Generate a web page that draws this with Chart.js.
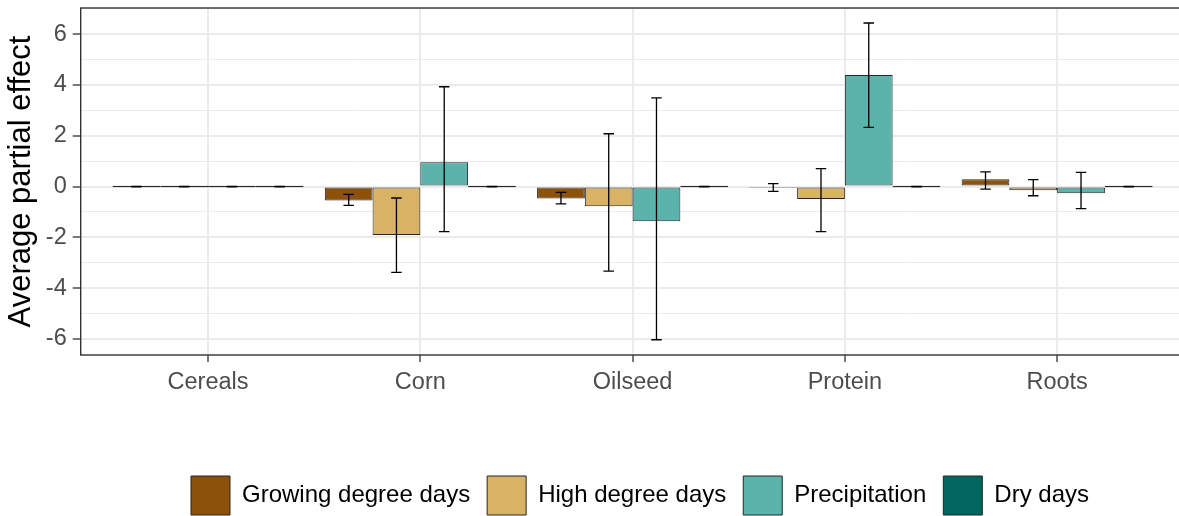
<!DOCTYPE html>
<html>
<head>
<meta charset="utf-8">
<script src="https://cdn.jsdelivr.net/npm/chart.js@4"></script>
<style>
  html, body { margin: 0; padding: 0; background: #fff; overflow: hidden; }
  #wrap { width: 1179px; height: 516px; overflow: hidden; }
</style>
</head>
<body>
<div id="wrap"><canvas id="chart" width="1280" height="525"></canvas></div>
<script>
// categories and series
var categories = ['Cereals', 'Corn', 'Oilseed', 'Protein', 'Roots'];
var seriesNames = ['Growing degree days', 'High degree days', 'Precipitation', 'Dry days'];
var seriesColors = ['#8C510A', '#D8B365', '#5AB4AC', '#01665E'];

var gdd      = [0.00, -0.55, -0.47, -0.03, 0.29];
var gddLo    = [-0.01, -0.74, -0.68, -0.19, -0.10];
var gddHi    = [0.01, -0.31, -0.23, 0.12, 0.58];

var hdd      = [0.00, -1.91, -0.77, -0.49, -0.14];
var hddLo    = [-0.01, -3.38, -3.33, -1.77, -0.36];
var hddHi    = [0.01, -0.45, 2.08, 0.71, 0.27];

var precip   = [0.00, 0.96, -1.36, 4.39, -0.26];
var precipLo = [-0.01, -1.77, -6.03, 2.33, -0.87];
var precipHi = [0.01, 3.93, 3.49, 6.44, 0.56];

var dry      = [0.00, 0.00, 0.00, 0.00, 0.00];
var dryLo    = [-0.01, -0.01, -0.01, -0.01, -0.01];
var dryHi    = [0.01, 0.01, 0.01, 0.01, 0.01];

var yTicks = [-6, -4, -2, 0, 2, 4, 6];

var values = [gdd, hdd, precip, dry];
var lows = [gddLo, hddLo, precipLo, dryLo];
var highs = [gddHi, hddHi, precipHi, dryHi];

var datasets = values.map(function(vals, d){
    return {
        label: seriesNames[d],
        data: vals.map(function(v, i){ return {x: i, y: v}; }),
        backgroundColor: seriesColors[d],
        borderColor: '#262626',
        borderWidth: 1,
        borderSkipped: false,
        minBarLength: 1.5,
        categoryPercentage: 0.9,
        barPercentage: 1.0
    };
});

// error bars drawn from the bar elements and the y scale
var errorBars = {
    id: 'errorBars',
    afterDatasetsDraw: function(chart){
        var ctx = chart.ctx, ys = chart.scales.y;
        ctx.save();
        ctx.strokeStyle = '#000000';
        ctx.lineWidth = 1.3;
        chart.data.datasets.forEach(function(ds, d){
            chart.getDatasetMeta(d).data.forEach(function(bar, i){
                var x = bar.x, half = bar.width * 0.11;
                var y1 = ys.getPixelForValue(lows[d][i]);
                var y2 = ys.getPixelForValue(highs[d][i]);
                ctx.beginPath();
                ctx.moveTo(x, y1); ctx.lineTo(x, y2);
                ctx.moveTo(x - half, y1); ctx.lineTo(x + half, y1);
                ctx.moveTo(x - half, y2); ctx.lineTo(x + half, y2);
                ctx.stroke();
            });
        });
        ctx.restore();
    }
};

// panel border like theme_bw
var panelBorder = {
    id: 'panelBorder',
    afterDraw: function(chart){
        var a = chart.chartArea, ctx = chart.ctx;
        ctx.save();
        ctx.strokeStyle = '#333333';
        ctx.lineWidth = 1.4;
        ctx.strokeRect(a.left, a.top, a.right - a.left, a.bottom - a.top);
        ctx.restore();
    }
};

new Chart(document.getElementById('chart'), {
    type: 'bar',
    data: { datasets: datasets },
    plugins: [errorBars, panelBorder],
    options: {
        responsive: false,
        animation: false,
        events: [],
        layout: { padding: { top: 8, left: 0, right: 0, bottom: 0 } },
        plugins: {
            tooltip: { enabled: false },
            legend: {
                position: 'bottom',
                labels: {
                    boxWidth: 39,
                    boxHeight: 39,
                    padding: 17,
                    color: '#000000',
                    font: { family: 'Liberation Sans, Arial', size: 24 }
                }
            }
        },
        scales: {
            x: {
                type: 'linear',
                min: -0.6,
                max: 4.6,
                offset: false,
                ticks: {
                    stepSize: 1,
                    includeBounds: false,
                    autoSkip: false,
                    maxRotation: 0,
                    padding: 6,
                    color: '#4d4d4d',
                    font: { family: 'Liberation Sans, Arial', size: 23.5 },
                    callback: function(v){ return categories[v] !== undefined ? categories[v] : ''; }
                },
                grid: {
                    offset: false,
                    color: '#ebebeb',
                    lineWidth: 2,
                    tickColor: '#333333',
                    tickWidth: 1.3,
                    tickLength: 7
                },
                border: { display: false },
                afterFit: function(s){ s.height = 104; s.paddingLeft = 0; s.paddingRight = 0; }
            },
            y: {
                type: 'linear',
                min: -6.63,
                max: 7.03,
                ticks: {
                    stepSize: 1,
                    includeBounds: false,
                    autoSkip: false,
                    padding: 6,
                    color: '#4d4d4d',
                    font: { family: 'Liberation Sans, Arial', size: 23.5 },
                    callback: function(v){ return yTicks.indexOf(v) >= 0 ? String(v) : ''; }
                },
                grid: {
                    color: '#ebebeb',
                    lineWidth: function(c){ return yTicks.indexOf(c.tick.value) >= 0 ? 2 : 1; },
                    tickColor: function(c){ return yTicks.indexOf(c.tick.value) >= 0 ? '#333333' : 'rgba(0,0,0,0)'; },
                    tickWidth: 1.3,
                    tickLength: 8
                },
                border: { display: false },
                title: {
                    display: true,
                    text: 'Average partial effect',
                    color: '#000000',
                    padding: { top: 3, bottom: 0 },
                    font: { family: 'Liberation Sans, Arial', size: 31 }
                },
                afterFit: function(s){ s.width = 80.7; s.paddingTop = 0; s.paddingBottom = 0; }
            },
            y2: {
                type: 'linear',
                position: 'right',
                display: true,
                ticks: { display: false },
                grid: { display: false },
                border: { display: false },
                afterFit: function(s){ s.width = 95.5; s.paddingTop = 0; s.paddingBottom = 0; }
            }
        }
    }
});
</script>
</body>
</html>
